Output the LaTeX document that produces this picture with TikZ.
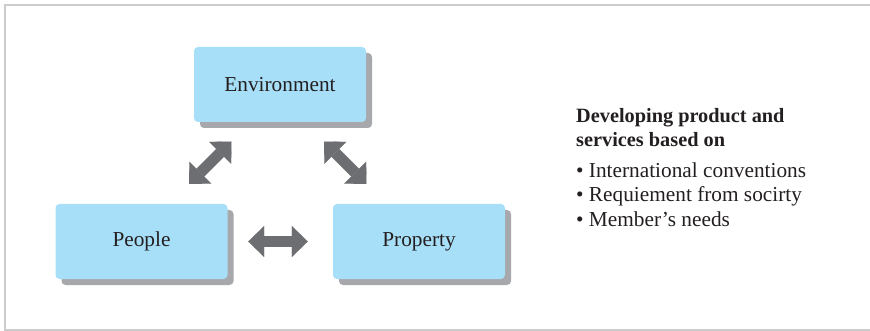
\documentclass[tikz,border=0pt]{standalone}
\usepackage{fontspec}
\setmainfont{Liberation Serif}
\usetikzlibrary{arrows.meta,shadows}
\definecolor{boxblue}{HTML}{A8DFF8}
\definecolor{shadowgray}{HTML}{A6A8AB}
\definecolor{arrowgray}{HTML}{6D6E71}
\definecolor{framegray}{HTML}{CCCCCC}
\definecolor{textdark}{HTML}{231F20}
\begin{document}
\begin{tikzpicture}[x=1pt,y=-1pt,
  box/.style={rounded corners=4pt, fill=boxblue, minimum width=172pt, minimum height=75pt,
    inner sep=0pt, text=textdark, font=\fontsize{21.3}{24}\selectfont,
    drop shadow={shadow xshift=6pt, shadow yshift=-6pt, fill=shadowgray, opacity=1}},
  link/.style={draw=arrowgray, line width=11pt,
    {Triangle[length=16pt,width=31pt,line width=0.1pt]}-{Triangle[length=16pt,width=31pt,line width=0.1pt]}},
  txt/.style={anchor=base west, inner sep=0pt, text=textdark, font=\fontsize{21.3}{24}\selectfont},
  headtxt/.style={txt, font=\bfseries\fontsize{20.3}{24}\selectfont}]
\useasboundingbox (0,0) rectangle (870,331);
\draw[framegray, line width=1.3pt] (870,5) -- (5,5) -- (5,330) -- (870,330);

\node[box] (env) at (280,84.5) {Environment};
\node[box] (people) at (141.5,241.5) {People};
\node[box] (prop) at (419,241.5) {Property};

\coordinate (l1) at (189,184);
\coordinate (l2) at (231.5,141.5);
\coordinate (r1) at (324,141.5);
\coordinate (r2) at (366.5,184);
\draw[link] (l1) -- (l2);
\draw[link] (r1) -- (r2);
\draw[link, shorten <=20.5pt, shorten >=25pt] (people) -- (prop);

\node[headtxt] (h1) at (576,123) {Developing product and};
\node[headtxt] (h2) at (576,147) {services based on};
\node[txt] (b1) at (576,178) {• International conventions};
\node[txt] (b2) at (576,202) {• Requiement from socirty};
\node[txt] (b3) at (576,226) {• Member’s needs};
\end{tikzpicture}
\end{document}
